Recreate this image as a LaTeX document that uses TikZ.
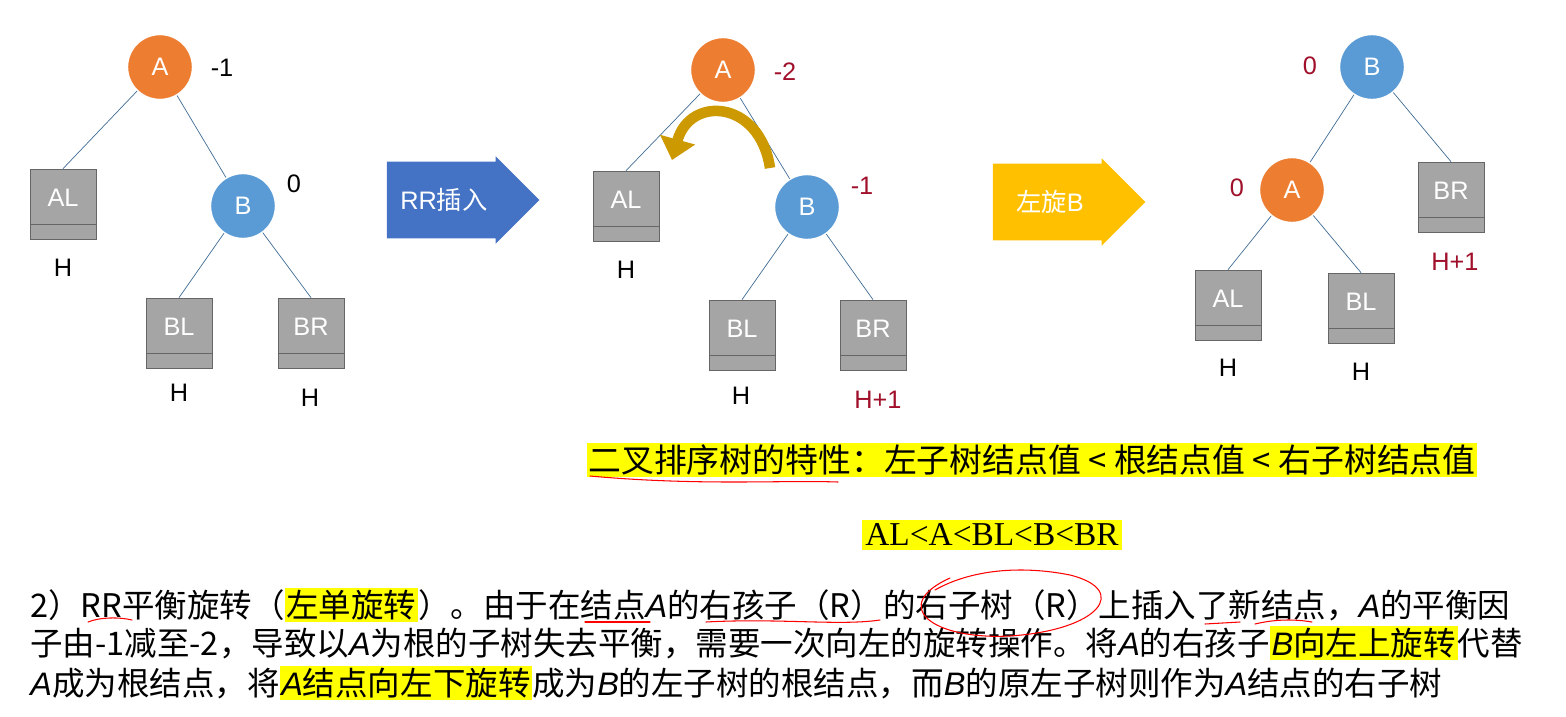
\documentclass[tikz,border=0pt]{standalone}
\usepackage{fontspec}
\setmainfont{Liberation Sans}
\newfontfamily\cjk{Noto Sans CJK SC}
\newfontfamily\serifab{Liberation Serif}
\usetikzlibrary{arrows.meta,positioning,shapes.arrows}
\definecolor{nodeorange}{HTML}{ED7D31}
\definecolor{nodeblue}{HTML}{5B9BD5}
\definecolor{boxgray}{HTML}{A5A5A5}
\definecolor{darkred}{HTML}{A0102A}
\definecolor{arrowblue}{HTML}{4472C4}
\definecolor{arrowyellow}{HTML}{FFC000}
\definecolor{hlyellow}{HTML}{FFFF00}
\newcommand{\hlt}[1]{{\setlength{\fboxsep}{1pt}\colorbox{hlyellow}{#1}}}
\newcommand{\ita}[1]{{\fontspec{Liberation Sans}\itshape #1}}
\begin{document}
\begin{tikzpicture}[x=0.02cm,y=-0.02cm,
    treenode/.style={circle, draw=white, thick, minimum size=1.3cm, text=white, font=\Large},
    subtree/.style={rectangle, draw=black!60, fill=boxgray, minimum width=1.32cm, minimum height=1.4cm,
        text=white, font=\Large,
        path picture={\draw[black!60] ([yshift=0.3cm]path picture bounding box.south west) -- ([yshift=0.3cm]path picture bounding box.south east);}},
    edge/.style={draw=nodeblue!70!black, thin},
    factor/.style={font=\Large},
    height/.style={font=\Large},
    bigarrow/.style={single arrow, minimum height=3.05cm, minimum width=1.75cm, single arrow head extend=0.05cm, text=white, font=\Large},
    scrib/.style={red, semithick, line cap=round}
]
\useasboundingbox (0,0) rectangle (1566,717);

% Tree before insertion
\node[treenode, fill=nodeorange] (a1) at (160,67) {A};
\node[factor] at (222,68) {-1};
\node[subtree] (al1) at (63,204) {\raisebox{0.25cm}{AL}};
\node[treenode, fill=nodeblue] (b1) at (243,206) {B};
\node[factor] at (294,184) {0};
\node[subtree] (bl1) at (179,333) {\raisebox{0.25cm}{BL}};
\node[subtree] (br1) at (311,333) {\raisebox{0.25cm}{BR}};
\node[height] at (63,268) {H};
\node[height] at (179,393) {H};
\node[height] at (310,398) {H};
\draw[edge] (a1) -- (al1.north);
\draw[edge] (a1) -- (b1);
\draw[edge] (b1) -- (bl1.north);
\draw[edge] (b1) -- (br1.north);

% RR insertion arrow
\node[bigarrow, fill=arrowblue] (ins) at (444,200) {RR{\cjk 插入}\hspace{0.2cm}};

% Tree after insertion
\node[treenode, fill=nodeorange] (a2) at (723,70) {A};
\node[factor, text=darkred] at (785,72) {-2};
\node[subtree] (al2) at (626,206) {\raisebox{0.25cm}{AL}};
\node[treenode, fill=nodeblue] (b2) at (807,207) {B};
\node[factor, text=darkred] at (862,186) {-1};
\node[subtree] (bl2) at (742,335) {\raisebox{0.25cm}{BL}};
\node[subtree] (br2) at (873,335) {\raisebox{0.25cm}{BR}};
\node[height] at (626,270) {H};
\node[height] at (741,396) {H};
\node[height, text=darkred] at (878,400) {H+1};
\draw[edge] (a2) -- (al2.north);
\draw[edge] (a2) -- (b2);
\draw[edge] (b2) -- (bl2.north);
\draw[edge] (b2) -- (br2.north);
\draw[draw=arrowyellow!80!black, line width=6pt, -{Triangle[length=12pt,width=20pt]}]
    (770,168) .. controls (760,100) and (690,95) .. (672,160);

% rotate arrow
\node[bigarrow, fill=arrowyellow] (rot) at (1050,202) {{\cjk 左旋}B\hspace{0.2cm}};

% Tree after rotation
\node[treenode, fill=nodeblue] (b3) at (1372,67) {B};
\node[factor, text=darkred] at (1310,66) {0};
\node[treenode, fill=nodeorange] (a3) at (1292,190) {A};
\node[factor, text=darkred] at (1237,188) {0};
\node[subtree] (br3) at (1451,197) {\raisebox{0.25cm}{BR}};
\node[height, text=darkred] at (1455,262) {H+1};
\node[subtree] (al3) at (1228,305) {\raisebox{0.25cm}{AL}};
\node[subtree] (bl3) at (1361,308) {\raisebox{0.25cm}{BL}};
\node[height] at (1228,368) {H};
\node[height] at (1361,372) {H};
\draw[edge] (b3) -- (a3);
\draw[edge] (b3) -- (br3.north);
\draw[edge] (a3) -- (al3.north);
\draw[edge] (a3) -- (bl3.north);

% Property text
\node[fill=hlyellow, inner sep=1pt, font=\fontsize{18.7}{22}\cjk] (prop) at (1032,460)
    {二叉排序树的特性：左子树结点值 < 根结点值 < 右子树结点值};
\node[fill=hlyellow, inner sep=2pt, font=\fontsize{19}{22}\serifab] (order) at (992,535) {AL<A<BL<B<BR};

% Paragraph
\begin{scope}[every node/.style={anchor=west, font=\fontsize{18.5}{22}\cjk, inner sep=0pt}]
\node (p1) at (30,605) {2）RR平衡旋转（\hlt{左单旋转}）。由于在结点\ita{A}的右孩子（R）的右子树（R）上插入了新结点，\ita{A}的平衡因};
\node (p2) at (30,643) {子由-1减至-2，导致以\ita{A}为根的子树失去平衡，需要一次向左的旋转操作。将\ita{A}的右孩子\hlt{\ita{B}向左上旋转}代替};
\node (p3) at (30,683) {\ita{A}成为根结点，将\hlt{\ita{A}结点向左下旋转}成为\ita{B}的左子树的根结点，而\ita{B}的原左子树则作为\ita{A}结点的右子树};
\end{scope}

% red annotations
\draw[scrib] (590,476) .. controls (700,486) and (780,480) .. (838,482);
\draw[scrib] (88,622) .. controls (100,617) and (120,617) .. (132,620);
\draw[scrib] (585,622) -- (650,622);
\draw[scrib] (706,622) .. controls (780,618) and (840,626) .. (880,620);
\draw[scrib] (950,578) .. controls (890,605) and (930,640) .. (1010,636) .. controls (1100,630) and (1130,590) .. (1070,575) .. controls (1020,565) and (970,570) .. (935,590);
\draw[scrib] (1205,624) -- (1240,622);
\draw[scrib] (1255,624) .. controls (1280,618) and (1300,620) .. (1312,622);
\end{tikzpicture}
\end{document}
